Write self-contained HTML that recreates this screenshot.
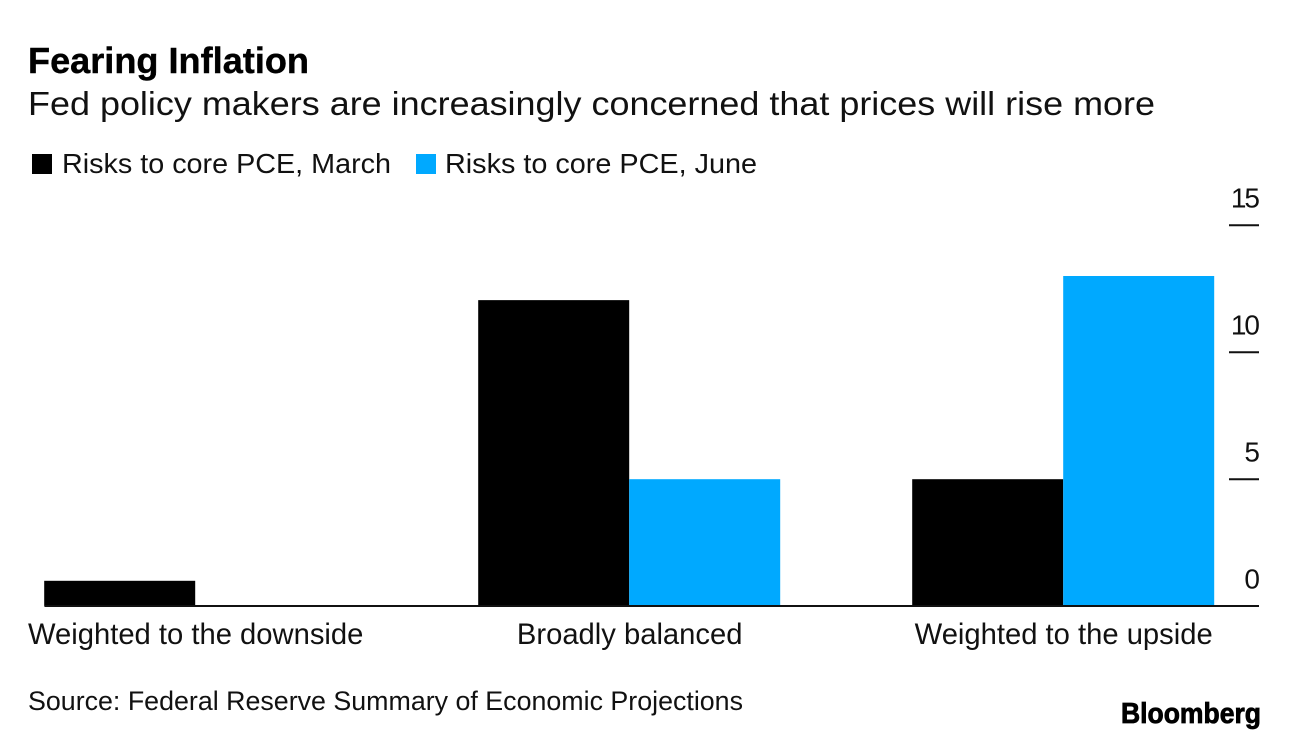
<!DOCTYPE html>
<html lang="en">
<head>
<meta charset="utf-8">
<title>Fearing Inflation</title>
<style>
html,body{margin:0;padding:0;background:#fff;}
svg{display:block;}
text{font-family:"Liberation Sans",Arial,sans-serif;fill:#111;}
</style>
</head>
<body>
<svg id="chart" width="1289" height="740" viewBox="0 0 1289 740" xmlns="http://www.w3.org/2000/svg">
  <rect width="1289" height="740" fill="#fff"/>
  <text x="28" y="73" font-size="36" font-weight="700" textLength="281" lengthAdjust="spacingAndGlyphs" stroke="#000" stroke-width="0.4" style="fill:#000">Fearing Inflation</text>
  <text x="28" y="115" font-size="33" textLength="1127" lengthAdjust="spacingAndGlyphs">Fed policy makers are increasingly concerned that prices will rise more</text>
  <rect x="32" y="154" width="20" height="20" fill="#000"/>
  <text x="62" y="173" font-size="28" textLength="329" lengthAdjust="spacingAndGlyphs">Risks to core PCE, March</text>
  <rect x="416" y="154" width="20" height="20" fill="#00a9ff"/>
  <text x="445" y="173" font-size="28" textLength="312" lengthAdjust="spacingAndGlyphs">Risks to core PCE, June</text>
  <g id="bars"></g>
  <g id="y-axis"></g>
  <line x1="44.5" x2="1259" y1="606" y2="606" stroke="#111" stroke-width="2"/>
  <g id="x-axis"></g>
  <text x="28" y="710" font-size="26.5" textLength="715" lengthAdjust="spacingAndGlyphs">Source: Federal Reserve Summary of Economic Projections</text>
  <text x="1121" y="723" font-size="29" font-weight="700" textLength="140" lengthAdjust="spacingAndGlyphs" stroke="#000" stroke-width="0.8" style="fill:#000">Bloomberg</text>
</svg>
<script>
var categories = ["Weighted to the downside", "Broadly balanced", "Weighted to the upside"];
var marchValues = [1, 12.05, 5];
var juneValues = [0, 5, 13];
var yTicks = [0, 5, 10, 15];
var NS = "http://www.w3.org/2000/svg";

var Y_ZERO = 606.2;
function yScale(v) { return Y_ZERO - v * 25.4; }
function xCenter(i) { return 195.2 + i * 434; }
var BAR_WIDTH = 151;

function make(tag, attrs, parent) {
  var el = document.createElementNS(NS, tag);
  for (var k in attrs) el.setAttribute(k, attrs[k]);
  parent.appendChild(el);
  return el;
}

var barsG = document.getElementById("bars");
var xG = document.getElementById("x-axis");
var yG = document.getElementById("y-axis");

categories.forEach(function (c, i) {
  var m = make("rect", {x: xCenter(i) - BAR_WIDTH, y: yScale(marchValues[i]), width: BAR_WIDTH, height: Y_ZERO - yScale(marchValues[i]), fill: "#000"}, barsG);
  
  
  var j = make("rect", {x: xCenter(i), y: yScale(juneValues[i]), width: BAR_WIDTH, height: Y_ZERO - yScale(juneValues[i]), fill: "#00a9ff"}, barsG);
  
  
  var t = make("text", {x: xCenter(i) + 0.5, y: 644, "font-size": 29.2, "text-anchor": "middle"}, xG);
  t.textContent = c;
  
  
});

yTicks.forEach(function (v) {
  var y = yScale(v);
  if (v !== 0) {
    var l = make("line", {x1: 1229, x2: 1259, y1: y, y2: y, stroke: "#111", "stroke-width": 2}, yG);
    
    
  }
  var twoDigit = String(v).length > 1;
  var t = make("text", {x: twoDigit ? 1258 : 1260, y: y - 17.7, "font-size": 28, "text-anchor": "end", "letter-spacing": twoDigit ? -2 : 0}, yG);
  t.textContent = String(v);
  
  
});
</script>
</body>
</html>
